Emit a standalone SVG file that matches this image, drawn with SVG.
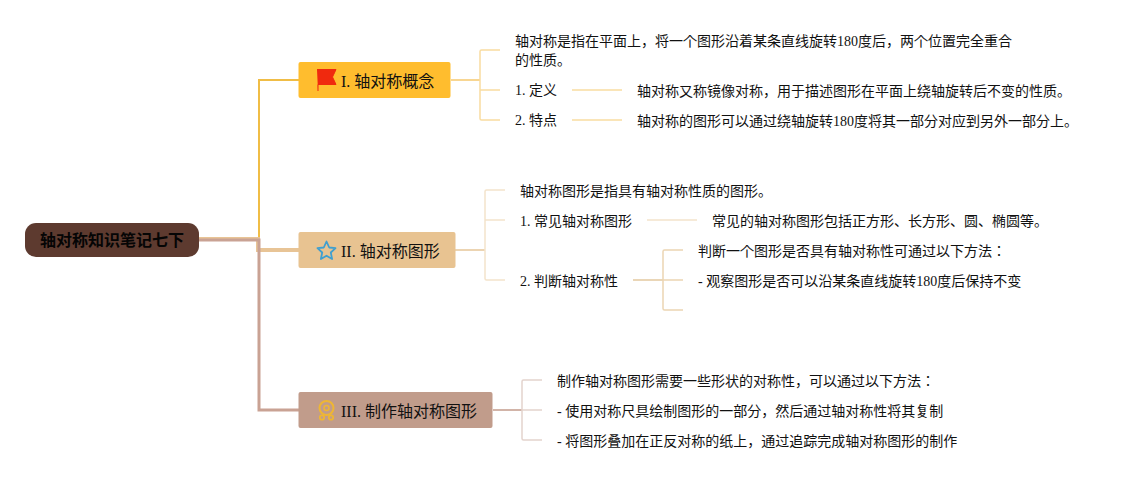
<svg xmlns="http://www.w3.org/2000/svg" width="1138" height="480" viewBox="0 0 1138 480">
<style>
text{font-family:"Liberation Serif","Noto Sans CJK JP",serif;font-size:14px;fill:#111}
.t{font-size:16px;fill:#111}
.r{font-size:16px;font-weight:700;font-family:"Liberation Sans","Noto Sans CJK JP",sans-serif;fill:#050505}
path,line{fill:none}
.a{stroke:#f9dca0;stroke-width:1.5}
.b{stroke:#f3e3cb;stroke-width:1.5}
.b2{stroke:#e3c89f;stroke-width:1.5}
.c{stroke:#e3d3cd;stroke-width:1.5}
</style>
<rect width="1138" height="480" fill="#fff"/>
<g id="connectors">
<path d="M199 239H259V80H299" stroke="#f0bd46" stroke-width="2"/>
<path d="M199 239H258V250H299" stroke="#e8c496" stroke-width="4"/>
<path d="M199 240H259V410H299" stroke="#c9a294" stroke-width="3"/>
<path d="M451 80H480" stroke="#f8d692" stroke-width="2"/>
<path class="a" d="M500 50H481.500Q480 50 480 51.500V118.500Q480 120 481.500 120H500M480 90H500"/>
<line class="a" x1="572" y1="90" x2="622" y2="90"/>
<line class="a" x1="572" y1="120" x2="622" y2="120"/>
<path d="M455 250H485" stroke="#ecd4b2" stroke-width="2"/>
<path class="b" d="M505 190H486.500Q485 190 485 191.500V278.500Q485 280 486.500 280H505M485 220H505"/>
<line class="b" x1="647" y1="220" x2="697" y2="220"/>
<line class="b2" x1="633" y1="280" x2="663" y2="280"/>
<path class="b" d="M683 250H664.500Q663 250 663 251.500V308.500Q663 310 664.500 310H683M663 280H683" style="stroke:#ecd5b3"/>
<path d="M493 410H522" stroke="#d2b4a8" stroke-width="2"/>
<path class="c" d="M542 380H523.500Q522 380 522 381.500V438.500Q522 440 523.500 440H542M522 410H542"/>
</g>
<g id="root">
<rect x="25" y="223" width="174" height="34" rx="11" fill="#5d3a2f"/>
<text class="r" x="112" y="246" text-anchor="middle">轴对称知识笔记七下</text>
</g>
<g id="n1">
<rect x="298.500" y="62" width="152" height="36" rx="2" fill="#ffbd2e"/>
<path d="M317 69.500H336L332.500 77L336 84.500H318V91" stroke="#f0290e" stroke-width="1" style="fill:#f0290e"/>
<text class="t" x="341" y="87">I. 轴对称概念</text>
</g>
<g id="n2">
<rect x="298.500" y="232" width="157" height="36" rx="2" fill="#e8c391"/>
<path d="M326.500 241.500L329.200 247.500L335.500 248.200L330.800 252.500L332.100 259L326.500 255.700L320.900 259L322.200 252.500L317.500 248.200L323.800 247.500Z" stroke="#3f9fd0" stroke-width="1.800" stroke-linejoin="round"/>
<text class="t" x="341" y="257">II. 轴对称图形</text>
</g>
<g id="n3">
<rect x="298.500" y="392" width="194" height="36" rx="2" fill="#c19c8b"/>
<g stroke="#eeb634" fill="none">
<circle cx="326.500" cy="408" r="7" stroke-width="2"/>
<circle cx="326.500" cy="408" r="2.500" stroke-width="1.500"/>
<circle cx="322" cy="417.500" r="2.200" stroke-width="1.800"/>
<circle cx="331" cy="417.500" r="2.200" stroke-width="1.800"/>
</g>
<text class="t" x="341" y="417">III. 制作轴对称图形</text>
</g>
<g id="n1-0"><text x="515" y="46">轴对称是指在平面上，将一个图形沿着某条直线旋转180度后，两个位置完全重合</text><text x="515" y="65">的性质。</text></g>
<g id="n1-1"><text x="515" y="95">1. 定义</text></g>
<g id="n1-1-0"><text x="637" y="96">轴对称又称镜像对称，用于描述图形在平面上绕轴旋转后不变的性质。</text></g>
<g id="n1-2"><text x="515" y="125">2. 特点</text></g>
<g id="n1-2-0"><text x="637" y="126">轴对称的图形可以通过绕轴旋转180度将其一部分对应到另外一部分上。</text></g>
<g id="n2-0"><text x="520" y="196">轴对称图形是指具有轴对称性质的图形。</text></g>
<g id="n2-1"><text x="520" y="226">1. 常见轴对称图形</text></g>
<g id="n2-1-0"><text x="712" y="226">常见的轴对称图形包括正方形、长方形、圆、椭圆等。</text></g>
<g id="n2-2"><text x="520" y="286">2. 判断轴对称性</text></g>
<g id="n2-2-0"><text x="698" y="256">判断一个图形是否具有轴对称性可通过以下方法：</text></g>
<g id="n2-2-1"><text x="698" y="286">- 观察图形是否可以沿某条直线旋转180度后保持不变</text></g>
<g id="n3-0"><text x="557" y="386">制作轴对称图形需要一些形状的对称性，可以通过以下方法：</text></g>
<g id="n3-1"><text x="557" y="416">- 使用对称尺具绘制图形的一部分，然后通过轴对称性将其复制</text></g>
<g id="n3-2"><text x="557" y="446">- 将图形叠加在正反对称的纸上，通过追踪完成轴对称图形的制作</text></g>
</svg>
